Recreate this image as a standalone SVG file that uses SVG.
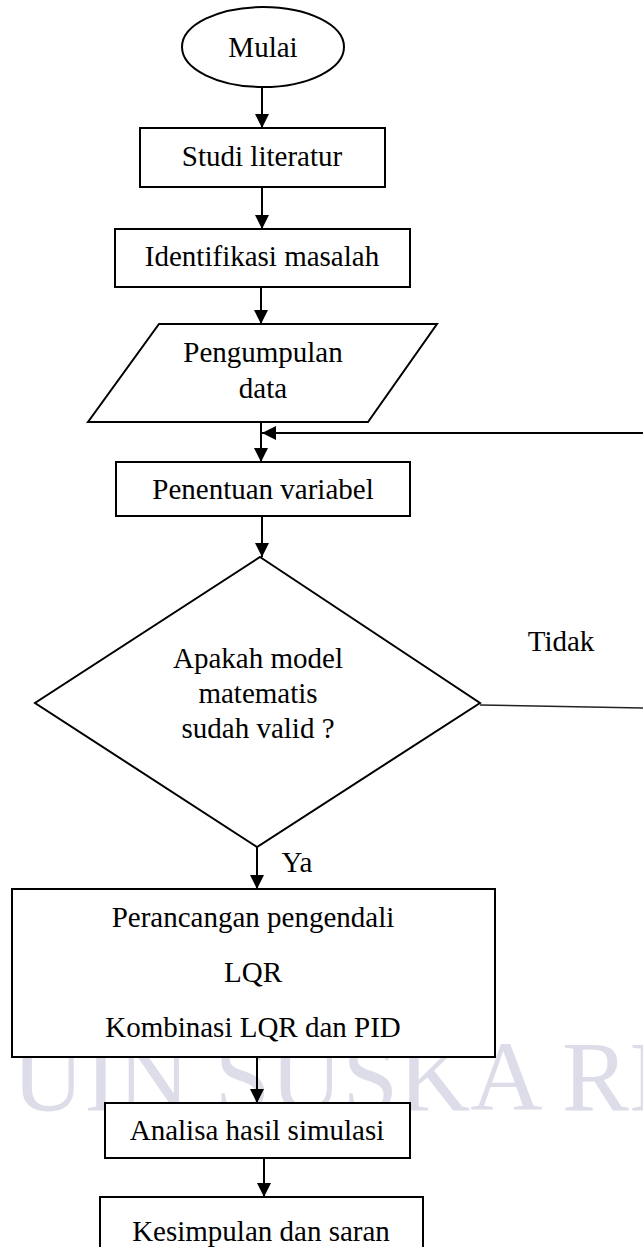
<svg xmlns="http://www.w3.org/2000/svg" width="643" height="1247" viewBox="0 0 643 1247">
<defs>
<marker id="ah" markerUnits="userSpaceOnUse" markerWidth="14" markerHeight="14" viewBox="0 0 14 14" refX="14" refY="7" orient="auto">
<path d="M0,0 L14,7 L0,14 Z" fill="#000"/>
</marker>
</defs>
<style>
.s{fill:#fff;stroke:#000;stroke-width:2}
.t{font-family:"Liberation Serif","Times New Roman",serif;font-size:29px;fill:#000;text-anchor:middle}
.c{fill:none;stroke:#000;stroke-width:2}
.wm{font-family:"Liberation Serif","Times New Roman",serif;font-size:100px;fill:#dcdde9}
</style>
<rect x="0" y="0" width="643" height="1247" fill="#fff"/>
<text class="wm" x="12" y="1110" textLength="650" lengthAdjust="spacing">UIN SUSKA RI</text>

<g id="connectors">
<line class="c" x1="262" y1="87" x2="262" y2="128" marker-end="url(#ah)"/>
<line class="c" x1="262" y1="187" x2="262" y2="229" marker-end="url(#ah)"/>
<line class="c" x1="261" y1="287" x2="261" y2="324" marker-end="url(#ah)"/>
<line class="c" x1="261" y1="422" x2="261" y2="462" marker-end="url(#ah)"/>
<line class="c" x1="643" y1="433" x2="262" y2="433" marker-end="url(#ah)"/>
<line class="c" x1="262" y1="516" x2="262" y2="557" marker-end="url(#ah)"/>
<line x1="480" y1="705" x2="643" y2="708" stroke="#222" stroke-width="1.5"/>
<line class="c" x1="257" y1="847" x2="257" y2="889" marker-end="url(#ah)"/>
<line class="c" x1="257" y1="1057" x2="257" y2="1103" marker-end="url(#ah)"/>
<line class="c" x1="264" y1="1158" x2="264" y2="1197" marker-end="url(#ah)"/>
<text class="t" x="561" y="651">Tidak</text>
<text class="t" x="297" y="872">Ya</text>
</g>

<g id="mulai">
<ellipse class="s" cx="263" cy="47" rx="81" ry="40"/>
<text class="t" x="263" y="57">Mulai</text>
</g>
<g id="studi">
<rect class="s" x="140" y="128" width="245" height="59"/>
<text class="t" x="262" y="166">Studi literatur</text>
</g>
<g id="identifikasi">
<rect class="s" x="115" y="229" width="295" height="58"/>
<text class="t" x="262" y="266">Identifikasi masalah</text>
</g>
<g id="pengumpulan">
<polygon class="s" points="159,324 437,324 368,422 88,422"/>
<text class="t" x="263" y="362">Pengumpulan</text>
<text class="t" x="263" y="398">data</text>
</g>
<g id="penentuan">
<rect class="s" x="116" y="462" width="294" height="54"/>
<text class="t" x="263" y="499">Penentuan variabel</text>
</g>
<g id="keputusan">
<polygon class="s" points="260,557 480,703 257,847 35,703"/>
<text class="t" x="258" y="668">Apakah model</text>
<text class="t" x="258" y="703">matematis</text>
<text class="t" x="258" y="738">sudah valid ?</text>
</g>
<g id="perancangan">
<rect class="s" x="12" y="889" width="483" height="168"/>
<text class="t" x="253" y="927">Perancangan pengendali</text>
<text class="t" x="253" y="982">LQR</text>
<text class="t" x="253" y="1037">Kombinasi LQR dan PID</text>
</g>
<g id="analisa">
<rect class="s" x="105" y="1103" width="305" height="55"/>
<text class="t" x="257" y="1140">Analisa hasil simulasi</text>
</g>
<g id="kesimpulan">
<rect class="s" x="100" y="1197" width="323" height="70"/>
<text class="t" x="261" y="1241">Kesimpulan dan saran</text>
</g>
</svg>
